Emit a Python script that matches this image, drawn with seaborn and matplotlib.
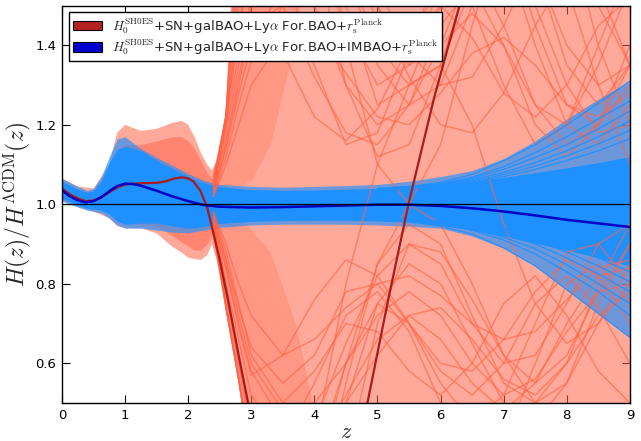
import numpy as np
import pandas as pd
import matplotlib
matplotlib.use("Agg")
import matplotlib.pyplot as plt
import seaborn as sns
from matplotlib.patches import Patch

# ---------------- data ----------------
# mean curves
z_mean_blue = [0, 0.125, 0.25, 0.375, 0.5, 0.625, 0.75, 0.875, 1.0, 1.125, 1.25, 1.5, 1.75,
               2.0, 2.25, 2.5, 3, 3.5, 4, 4.5, 5, 5.5, 6, 6.5, 7, 7.5, 8, 8.5, 9]
h_mean_blue = [1.035, 1.02, 1.01, 1.005, 1.008, 1.018, 1.033, 1.046, 1.052, 1.051, 1.047, 1.034, 1.02,
               1.008, 0.998, 0.994, 0.992, 0.993, 0.995, 0.997, 0.999, 0.999, 0.996, 0.99, 0.982,
               0.972, 0.961, 0.952, 0.943]

z_mean_red = [0, 0.125, 0.25, 0.375, 0.5, 0.625, 0.75, 0.875, 1.0, 1.25, 1.5, 1.65, 1.78, 1.9,
              2.0, 2.08, 2.19, 2.3, 2.35, 2.5, 2.63, 2.8, 2.95, 3.2, 3.6, 4.0, 4.4, 4.84, 5.17,
              5.49, 5.9, 6.3, 6.7, 7.2]
h_mean_red = [1.04, 1.025, 1.015, 1.008, 1.01, 1.018, 1.03, 1.042, 1.05, 1.053, 1.054, 1.058, 1.065,
              1.068, 1.065, 1.058, 1.035, 0.993, 0.96, 0.86, 0.76, 0.62, 0.5, 0.33, 0.18, 0.12, 0.22,
              0.5, 0.76, 1.0, 1.27, 1.5, 1.72, 1.95]

# blue sample envelopes
z_blue = [0, 0.25, 0.4, 0.5, 0.625, 0.75, 0.875, 1.0, 1.25, 1.5, 1.75, 2.0, 2.25, 2.5, 3, 3.5,
          4, 4.5, 5, 5.5, 6, 6.5, 7, 7.5, 8, 8.5, 9]
blue_core_hi = [1.058, 1.038, 1.03, 1.035, 1.06, 1.105, 1.138, 1.145, 1.135, 1.11, 1.09, 1.07, 1.053,
                1.045, 1.037, 1.035, 1.036, 1.038, 1.04, 1.044, 1.05, 1.058, 1.068, 1.08, 1.092,
                1.105, 1.12]
blue_core_lo = [1.015, 0.998, 0.99, 0.988, 0.985, 0.975, 0.958, 0.95, 0.953, 0.953, 0.946, 0.94,
                0.944, 0.952, 0.957, 0.959, 0.96, 0.96, 0.958, 0.955, 0.947, 0.935, 0.92, 0.902,
                0.885, 0.865, 0.845]
blue_out_hi = [1.065, 1.045, 1.035, 1.04, 1.07, 1.12, 1.165, 1.17, 1.14, 1.118, 1.098, 1.077, 1.06,
               1.05, 1.045, 1.043, 1.045, 1.047, 1.05, 1.058, 1.07, 1.085, 1.115, 1.16, 1.215,
               1.265, 1.31]
blue_out_lo = [1.008, 0.993, 0.985, 0.982, 0.978, 0.965, 0.948, 0.94, 0.94, 0.935, 0.93, 0.928,
               0.935, 0.942, 0.948, 0.95, 0.95, 0.95, 0.948, 0.945, 0.94, 0.92, 0.89, 0.845,
               0.785, 0.725, 0.665]

# blue fringe sample curves at high z
z_fringe = [5, 5.5, 6, 6.5, 7, 7.5, 8, 8.5, 9]
blue_fringe = [
    [1.04, 1.045, 1.055, 1.075, 1.11, 1.15, 1.2, 1.255, 1.31],
    [1.04, 1.045, 1.052, 1.068, 1.095, 1.13, 1.17, 1.215, 1.26],
    [1.038, 1.042, 1.05, 1.062, 1.08, 1.105, 1.135, 1.17, 1.21],
    [1.036, 1.04, 1.047, 1.056, 1.07, 1.088, 1.11, 1.135, 1.165],
    [1.038, 1.043, 1.05, 1.065, 1.088, 1.118, 1.15, 1.19, 1.235],
    [1.037, 1.041, 1.048, 1.059, 1.075, 1.096, 1.122, 1.152, 1.186],
    [0.96, 0.957, 0.945, 0.925, 0.89, 0.845, 0.785, 0.725, 0.665],
    [0.962, 0.958, 0.95, 0.935, 0.91, 0.875, 0.83, 0.78, 0.72],
    [0.963, 0.96, 0.953, 0.942, 0.925, 0.9, 0.865, 0.825, 0.78],
    [0.964, 0.962, 0.957, 0.95, 0.938, 0.92, 0.895, 0.865, 0.83],
    [0.962, 0.959, 0.951, 0.938, 0.917, 0.888, 0.848, 0.8, 0.75],
    [0.963, 0.961, 0.955, 0.946, 0.932, 0.91, 0.88, 0.845, 0.805],
]

# red sample envelopes
z_red = [0, 0.25, 0.5, 0.75, 0.875, 1.0, 1.25, 1.5, 1.75, 1.9, 2.0, 2.1, 2.2, 2.3, 2.38, 2.45,
         2.52, 2.59, 2.65, 2.71, 2.8, 2.86, 2.92, 9]
red_hi = [1.065, 1.045, 1.04, 1.1, 1.18, 1.2, 1.185, 1.19, 1.205, 1.21, 1.2, 1.17, 1.13, 1.1, 1.085,
          1.11, 1.16, 1.236, 1.36, 1.5, 1.6, 1.6, 1.6, 1.6]
red_lo = [1.008, 0.993, 0.982, 0.965, 0.945, 0.94, 0.94, 0.927, 0.893, 0.878, 0.866, 0.862, 0.86,
          0.872, 0.9, 0.86, 0.8, 0.74, 0.69, 0.64, 0.56, 0.5, 0.4, 0.4]

z_red_dense = [0.75, 0.875, 1.0, 1.25, 1.5, 1.75, 1.9, 2.0, 2.1, 2.2, 2.3, 2.4]
red_dense_hi = [1.06, 1.12, 1.15, 1.15, 1.16, 1.17, 1.17, 1.16, 1.14, 1.11, 1.08, 1.06]
red_dense_lo = [0.98, 0.96, 0.95, 0.95, 0.945, 0.92, 0.905, 0.895, 0.885, 0.885, 0.9, 0.93]

# dense fans of red samples just after the pinch
z_fan_up = [2.38, 2.45, 2.52, 2.59, 2.65, 2.71, 2.8, 3.0, 3.3, 3.6, 3.9]
fan_up_hi = [1.085, 1.11, 1.16, 1.236, 1.36, 1.5, 1.6, 1.6, 1.6, 1.6, 1.6]
fan_up_lo = [1.04, 1.045, 1.045, 1.045, 1.045, 1.045, 1.045, 1.06, 1.15, 1.35, 1.6]
z_fan_dn = [2.38, 2.45, 2.52, 2.59, 2.65, 2.71, 2.8, 2.86, 2.92, 3.3, 3.7, 4.1]
fan_dn_lo = [0.9, 0.86, 0.8, 0.74, 0.69, 0.64, 0.56, 0.5, 0.4, 0.4, 0.4, 0.4]
fan_dn_hi = [0.955, 0.955, 0.955, 0.955, 0.955, 0.955, 0.955, 0.955, 0.95, 0.88, 0.7, 0.4]

# red sample curves beyond the pinch
z_samp = [2.4, 2.6, 2.8, 3.0, 3.5, 4.0, 4.5, 5.0, 5.5, 6.0, 6.5, 7.0, 7.5, 8.0, 8.5, 9.0]
red_samples = [
    [1.05, 1.2, 1.5, 1.75, 2.0, 1.8, 1.4, 1.1, 1.0, 1.15, 1.45, 1.7, 1.75, 1.55, 1.3, 1.1],
    [0.95, 0.78, 0.6, 0.42, 0.2, 0.25, 0.5, 0.75, 0.85, 0.8, 0.65, 0.5, 0.45, 0.55, 0.75, 0.9],
    [1.06, 1.22, 1.62, 1.9, 2.2, 1.9, 1.5, 1.25, 1.3, 1.5, 1.6, 1.45, 1.25, 1.2, 1.35, 1.55],
    [0.94, 0.74, 0.56, 0.35, 0.15, 0.4, 0.8, 1.1, 1.3, 1.35, 1.2, 0.95, 0.75, 0.65, 0.7, 0.85],
    [1.03, 1.14, 1.28, 1.4, 1.55, 1.5, 1.3, 1.2, 1.25, 1.4, 1.48, 1.4, 1.25, 1.15, 1.2, 1.35],
    [0.97, 0.86, 0.74, 0.64, 0.55, 0.62, 0.78, 0.8, 0.7, 0.58, 0.52, 0.6, 0.75, 0.82, 0.74, 0.6],
    [1.04, 1.2, 1.38, 1.52, 1.6, 1.35, 1.15, 1.18, 1.38, 1.62, 1.8, 1.7, 1.45, 1.25, 1.2, 1.3],
    [0.96, 0.8, 0.66, 0.52, 0.4, 0.55, 0.72, 0.78, 0.68, 0.5, 0.35, 0.4, 0.6, 0.8, 0.85, 0.75],
    [1.02, 1.1, 1.2, 1.3, 1.42, 1.44, 1.33, 1.22, 1.2, 1.28, 1.38, 1.42, 1.35, 1.25, 1.22, 1.28],
    [0.98, 0.9, 0.8, 0.72, 0.62, 0.66, 0.74, 0.8, 0.82, 0.77, 0.7, 0.66, 0.68, 0.76, 0.84, 0.86],
    [1.07, 1.22, 1.7, 2.0, 2.3, 2.0, 1.6, 1.35, 1.25, 1.3, 1.5, 1.8, 1.9, 1.7, 1.4, 1.2],
    [0.93, 0.74, 0.56, 0.35, 0.0, 0.2, 0.55, 0.85, 1.0, 0.95, 0.8, 0.62, 0.5, 0.55, 0.7, 0.8],
    [1.04, 1.18, 1.35, 1.5, 1.7, 1.75, 1.6, 1.4, 1.3, 1.35, 1.55, 1.65, 1.5, 1.3, 1.18, 1.2],
    [0.96, 0.84, 0.7, 0.58, 0.45, 0.42, 0.5, 0.62, 0.72, 0.74, 0.66, 0.56, 0.52, 0.6, 0.72, 0.78],
    [1.02, 1.15, 1.3, 1.45, 1.5, 1.32, 1.18, 1.15, 1.25, 1.45, 1.55, 1.4, 1.2, 1.12, 1.2, 1.4],
    [0.98, 0.88, 0.75, 0.62, 0.5, 0.58, 0.7, 0.68, 0.58, 0.52, 0.6, 0.75, 0.82, 0.72, 0.58, 0.5],
    [1.05, 1.22, 1.45, 1.62, 1.8, 1.7, 1.45, 1.3, 1.35, 1.55, 1.72, 1.65, 1.4, 1.2, 1.15, 1.25],
    [0.95, 0.76, 0.56, 0.4, 0.3, 0.45, 0.65, 0.82, 0.9, 0.88, 0.76, 0.62, 0.55, 0.62, 0.78, 0.9],
    [1.03, 1.16, 1.32, 1.46, 1.38, 1.22, 1.16, 1.24, 1.4, 1.5, 1.42, 1.28, 1.22, 1.3, 1.45, 1.52],
    [0.97, 0.84, 0.69, 0.57, 0.62, 0.76, 0.86, 0.82, 0.7, 0.6, 0.58, 0.66, 0.78, 0.86, 0.82, 0.7],
    [1.03, 1.22, 1.75, 2.1, 2.4, 2.2, 1.8, 1.5, 1.35, 1.4, 1.6, 1.75, 1.6, 1.4, 1.3, 1.35],
    [0.96, 0.74, 0.56, 0.35, -0.2, 0.0, 0.35, 0.7, 0.9, 0.85, 0.7, 0.6, 0.62, 0.75, 0.9, 0.95],
    [1.04, 1.22, 1.55, 1.8, 1.95, 1.65, 1.3, 1.12, 1.15, 1.35, 1.6, 1.75, 1.6, 1.35, 1.25, 1.35],
    [0.96, 0.74, 0.56, 0.38, 0.25, 0.35, 0.6, 0.85, 0.95, 0.9, 0.72, 0.55, 0.5, 0.6, 0.8, 0.95],
    [1.05, 1.22, 1.85, 2.2, 2.5, 2.1, 1.7, 1.45, 1.42, 1.55, 1.5, 1.3, 1.15, 1.2, 1.4, 1.6],
    [0.95, 0.74, 0.56, 0.36, 0.1, 0.3, 0.6, 0.75, 0.7, 0.55, 0.45, 0.52, 0.7, 0.88, 0.9, 0.8],
    [1.03, 1.22, 1.42, 1.62, 1.9, 2.0, 1.8, 1.55, 1.38, 1.3, 1.32, 1.45, 1.62, 1.7, 1.55, 1.35],
    [0.97, 0.8, 0.6, 0.45, 0.35, 0.38, 0.52, 0.66, 0.72, 0.66, 0.55, 0.48, 0.55, 0.7, 0.82, 0.84],
    [1.02, 1.12, 1.25, 1.36, 1.5, 1.6, 1.62, 1.5, 1.32, 1.2, 1.18, 1.28, 1.45, 1.58, 1.5, 1.35],
    [0.98, 0.86, 0.72, 0.6, 0.48, 0.5, 0.6, 0.72, 0.78, 0.72, 0.6, 0.52, 0.56, 0.68, 0.78, 0.8],
]

x_ticks = [0, 1, 2, 3, 4, 5, 6, 7, 8, 9]
y_ticks = [0.6, 0.8, 1.0, 1.2, 1.4]
label_red = r"$H_0^{\rm SH0ES}$+SN+galBAO+Ly$\alpha$ For.BAO+$r_{\rm s}^{\rm Planck}$"
label_blue = r"$H_0^{\rm SH0ES}$+SN+galBAO+Ly$\alpha$ For.BAO+IMBAO+$r_{\rm s}^{\rm Planck}$"

# ---------------- styling ----------------
sns.set_theme(style="ticks")
plt.rcParams["font.family"] = ["DejaVu Sans"]
plt.rcParams["mathtext.fontset"] = "cm"

TOMATO = "#ff6347"
DODGER = "#1e90ff"
RED_MEAN = "#a81c1c"
BLUE_MEAN = "#0000c8"

fig = plt.figure(figsize=(6.41, 4.41), dpi=100)
ax = fig.add_axes([0.0967, 0.0862, 0.886, 0.901])

# red sample spread
ax.fill_between(z_red, red_lo, red_hi, color=TOMATO, alpha=0.55, lw=0)
ax.fill_between(z_red_dense, red_dense_lo, red_dense_hi, color=TOMATO, alpha=0.5, lw=0)
ax.fill_between(z_fan_up, fan_up_lo, fan_up_hi, color=TOMATO, alpha=0.25, lw=0)
ax.fill_between(z_fan_dn, fan_dn_lo, fan_dn_hi, color=TOMATO, alpha=0.25, lw=0)
for s in red_samples:
    sns.lineplot(x=z_samp, y=s, color=TOMATO, alpha=0.6, lw=1.1, ax=ax,
                 errorbar=None, sort=False)

# blue sample spread
ax.fill_between(z_blue, blue_out_lo, blue_out_hi, color=DODGER, alpha=0.65, lw=0)
ax.fill_between(z_blue, blue_core_lo, blue_core_hi, color=DODGER, alpha=1.0, lw=0)
for s in blue_fringe:
    sns.lineplot(x=z_fringe, y=s, color=DODGER, alpha=0.9, lw=0.9, ax=ax,
                 errorbar=None, sort=False)

# means
sns.lineplot(x=z_mean_red, y=h_mean_red, color=RED_MEAN, lw=1.6, ax=ax, errorbar=None)
sns.lineplot(x=z_mean_blue, y=h_mean_blue, color=BLUE_MEAN, lw=1.8, ax=ax, errorbar=None)
ax.axhline(1.0, color="black", lw=0.9)

ax.set_xlim(0, 9)
ax.set_ylim(0.5, 1.5)
ax.set_xticks(x_ticks)
ax.set_yticks(y_ticks)
ax.set_xticklabels([str(t) for t in x_ticks])
ax.set_yticklabels([f"{t:.1f}" for t in y_ticks])
ax.tick_params(direction="in", top=True, right=True, length=6, width=0.8,
               labelsize=9.5, colors="black", pad=4)
for sp in ax.spines.values():
    sp.set_visible(True)
    sp.set_color("black")
    sp.set_linewidth(1.0)

ax.set_xlabel(r"$z$", fontsize=16, labelpad=0)
ax.set_ylabel(r"$H(z)/H^{\Lambda{\rm CDM}}(z)$", fontsize=17, labelpad=2)

handles = [Patch(facecolor="#b22222", edgecolor="black", lw=0.8, label=label_red),
           Patch(facecolor="#0000cd", edgecolor="black", lw=0.8, label=label_blue)]
leg = ax.legend(handles=handles, loc="upper left", fontsize=9.5, frameon=True, fancybox=False,
                framealpha=1.0, edgecolor="black", borderaxespad=0.5, handlelength=2.2,
                labelspacing=0.15, borderpad=0.3)
leg.get_frame().set_linewidth(1.0)

fig.savefig("out.png", dpi=100)
